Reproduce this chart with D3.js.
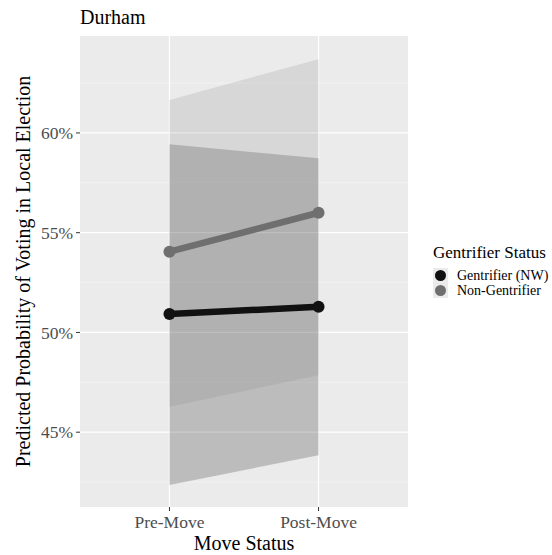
<!DOCTYPE html>
<html><head><meta charset="utf-8">
<script src="https://cdn.jsdelivr.net/npm/d3@7"></script>
<style>body{margin:0;background:#fff}svg{display:block}text{font-family:"Liberation Serif","DejaVu Serif",serif}</style>
</head><body><div id="chart"></div>
<script>
const categories = ["Pre-Move", "Post-Move"];
const groups = ["Gentrifier (NW)", "Non-Gentrifier"];
const gentFit = [50.92, 51.29];
const gentLower = [42.35, 43.85];
const gentUpper = [59.43, 58.73];
const nonFit = [54.05, 56.0];
const nonLower = [46.27, 47.86];
const nonUpper = [61.65, 63.7];
const yTicks = [45, 50, 55, 60];
const yMinor = [42.5, 47.5, 52.5, 57.5, 62.5];
const colors = ["#111111", "#6f6f6f"];
const ribbonFill = ["#000000", "#858585"];

const W = 552, H = 555;
const panel = {l: 80, t: 36, r: 408, b: 507};
const svg = d3.select("#chart").append("svg").attr("width", W).attr("height", H);

// ggplot discrete expansion: 0.6 units each side
const x = d3.scalePoint().domain(categories).range([panel.l, panel.r]).padding(0.6);
const y = d3.scaleLinear().domain([41.25, 64.86]).range([panel.b, panel.t]);

svg.append("rect").attr("x", panel.l).attr("y", panel.t).attr("width", panel.r - panel.l).attr("height", panel.b - panel.t).attr("fill", "#ebebeb");

const g = svg.append("g");
yMinor.forEach(v => g.append("line").attr("x1", panel.l).attr("x2", panel.r).attr("y1", y(v)).attr("y2", y(v)).attr("stroke", "#f7f7f7").attr("stroke-width", 0.6));
yTicks.forEach(v => g.append("line").attr("x1", panel.l).attr("x2", panel.r).attr("y1", y(v)).attr("y2", y(v)).attr("stroke", "#fff").attr("stroke-width", 1.2));
categories.forEach(c => g.append("line").attr("x1", x(c)).attr("x2", x(c)).attr("y1", panel.t).attr("y2", panel.b).attr("stroke", "#fff").attr("stroke-width", 1.2));

const series = [
  {fit: gentFit, lo: gentLower, hi: gentUpper},
  {fit: nonFit, lo: nonLower, hi: nonUpper}
];
const area = d3.area().x(d => x(d.c)).y0(d => y(d.lo)).y1(d => y(d.hi));
series.forEach((s, i) => {
  const pts = categories.map((c, k) => ({c, lo: s.lo[k], hi: s.hi[k]}));
  g.append("path").attr("d", area(pts)).attr("fill", ribbonFill[i]).attr("fill-opacity", 0.2);
});
const line = d3.line().x(d => x(d.c)).y(d => y(d.v));
series.forEach((s, i) => {
  const pts = categories.map((c, k) => ({c, v: s.fit[k]}));
  g.append("path").attr("d", line(pts)).attr("fill", "none").attr("stroke", colors[i]).attr("stroke-width", 6.5);
  pts.forEach(p => g.append("circle").attr("cx", x(p.c)).attr("cy", y(p.v)).attr("r", 6).attr("fill", colors[i]));
});

// axes
yTicks.forEach(v => {
  svg.append("line").attr("x1", panel.l - 4).attr("x2", panel.l).attr("y1", y(v)).attr("y2", y(v)).attr("stroke", "#333").attr("stroke-width", 1);
  svg.append("text").attr("x", panel.l - 7).attr("y", y(v)).attr("dy", "0.35em").attr("text-anchor", "end").attr("font-size", 17.5).attr("fill", "#4d4d4d").text(v + "%");
});
categories.forEach(c => {
  svg.append("line").attr("x1", x(c)).attr("x2", x(c)).attr("y1", panel.b).attr("y2", panel.b + 4).attr("stroke", "#333").attr("stroke-width", 1);
  svg.append("text").attr("x", x(c)).attr("y", 528).attr("text-anchor", "middle").attr("font-size", 17.5).attr("fill", "#4d4d4d").text(c);
});
svg.append("text").attr("x", (panel.l + panel.r) / 2).attr("y", 550).attr("text-anchor", "middle").attr("font-size", 20).attr("fill", "#000").text("Move Status");
svg.append("text").attr("transform", `translate(23,${(panel.t + panel.b) / 2}) rotate(-90)`).attr("dy", "0.35em").attr("text-anchor", "middle").attr("font-size", 20).attr("fill", "#000").text("Predicted Probability of Voting in Local Election");
svg.append("text").attr("x", panel.l).attr("y", 24).attr("font-size", 20).attr("fill", "#000").text("Durham");

// legend
const lg = svg.append("g");
lg.append("text").attr("x", 433).attr("y", 258).attr("font-size", 17).attr("fill", "#000").text("Gentrifier Status");
groups.forEach((gname, i) => {
  const ky = 268 + i * 15;
  lg.append("rect").attr("x", 433).attr("y", ky).attr("width", 15).attr("height", 15).attr("fill", "#ebebeb");
  lg.append("circle").attr("cx", 440.5).attr("cy", ky + 7.5).attr("r", 5.5).attr("fill", colors[i]);
  lg.append("text").attr("x", 457).attr("y", ky + 7.5).attr("dy", "0.35em").attr("font-size", 14).attr("fill", "#000").text(gname);
});
</script></body></html>
